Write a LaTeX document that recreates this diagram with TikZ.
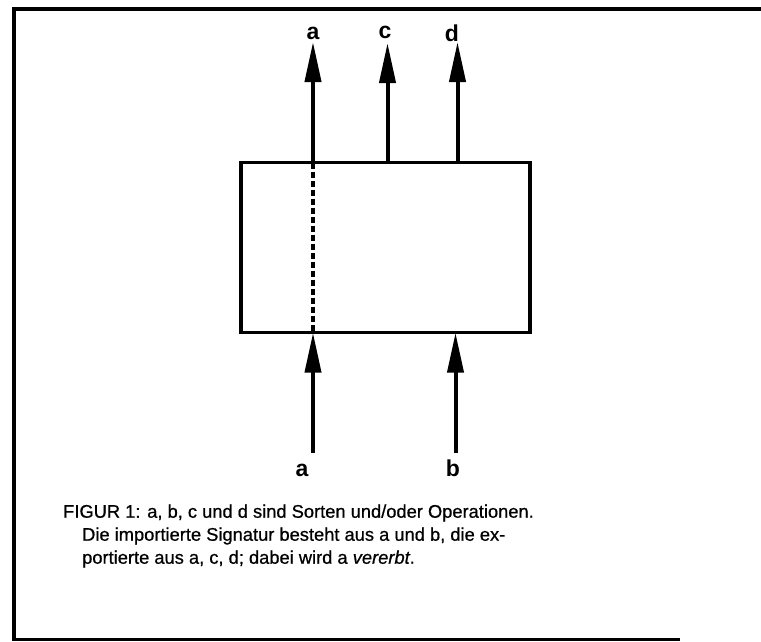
\documentclass[tikz,border=0pt]{standalone}
\usepackage{fontspec}
\setmainfont{Liberation Sans}
\newfontfamily\capfont[FakeBold=0.7]{Liberation Sans}
\usetikzlibrary{arrows.meta}
\begin{document}
\begin{tikzpicture}[x=1pt,y=-1pt,
  frame/.style={line width=3.6pt},
  modbox/.style={draw,line width=3.2pt,minimum width=289pt,minimum height=170pt,inner sep=0pt},
  sigarrow/.style={line width=4pt,-{Triangle[length=40pt,width=16pt]}},
  inherit/.style={line width=3.4pt,dash pattern=on 6pt off 3pt},
  lbl/.style={font=\bfseries\fontsize{23}{26}\selectfont,inner sep=0pt},
  captext/.style={font=\capfont\fontsize{18.3}{21}\selectfont,anchor=west,inner sep=0pt}]
\useasboundingbox (0,0) rectangle (761,641);
% frame
\draw[frame] (761,9) -- (14,9) -- (14,639.5) -- (680,639.5);
% module box
\node[modbox] (box) at (385.5,247.7) {};
% top (exported) arrows
\coordinate (atop) at (313,162.7);
\coordinate (ctop) at (387.5,162.7);
\coordinate (dtop) at (457.5,162.7);
\coordinate (atip) at (313,42);
\coordinate (ctip) at (387.5,43);
\coordinate (dtip) at (457.5,42);
\draw[sigarrow] (atop) -- (atip);
\draw[sigarrow] (ctop) -- (ctip);
\draw[sigarrow] (dtop) -- (dtip);
\node[lbl,anchor=base] (la) at (313,39) {a};
\node[lbl,anchor=base] (lc) at (385,38) {c};
\node[lbl,anchor=base] (ld) at (452,41) {d};
% inherited a (dashed through the box)
\coordinate (abot) at (313,332.7);
\draw[inherit] (atop) -- (abot);
% bottom (imported) arrows
\coordinate (atail) at (313,453);
\coordinate (btail) at (455.5,453);
\coordinate (btip) at (455.5,332.7);
\draw[sigarrow] (atail) -- (abot);
\draw[sigarrow] (btail) -- (btip);
\node[lbl,anchor=base] (lba) at (302,476) {a};
\node[lbl,anchor=base] (lbb) at (453,476) {b};
% caption
\node[captext] (c1) at (63,513) {FIGUR 1: a, b, c und d sind Sorten und/oder Operationen.};
\node[captext] (c2) at (82,536) {Die importierte Signatur besteht aus a und b, die ex-};
\node[captext] (c3) at (82,559) {portierte aus a, c, d; dabei wird a \textit{vererbt}.};
\end{tikzpicture}
\end{document}
